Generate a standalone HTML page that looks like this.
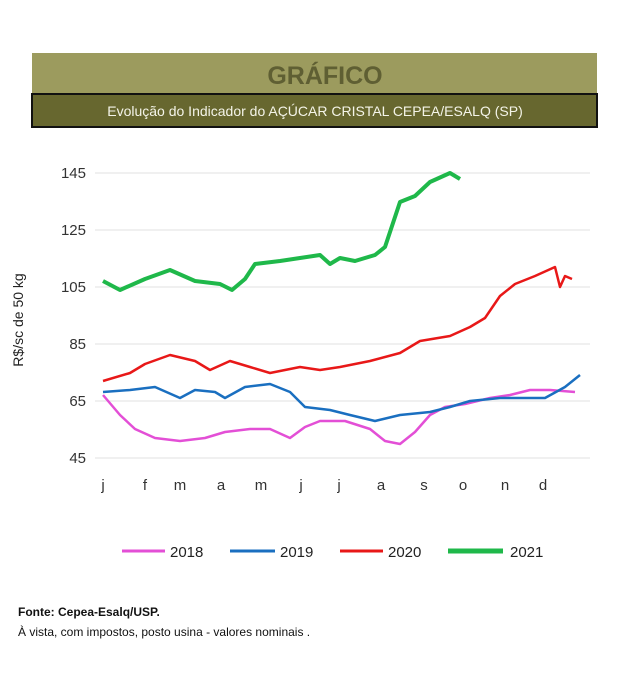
<!DOCTYPE html><html><head><style>body{margin:0;background:#fff;font-family:"Liberation Sans",sans-serif}</style></head><body>
<svg width="619" height="686" xmlns="http://www.w3.org/2000/svg" font-family="Liberation Sans, sans-serif">
<rect x="32" y="53" width="565" height="41" fill="#9c9b5e"/>
<text x="325" y="84" text-anchor="middle" font-size="25" font-weight="bold" fill="#5f5f33">GRÁFICO</text>
<rect x="32" y="94" width="565" height="33" fill="#67672f" stroke="#111" stroke-width="2"/>
<text x="315" y="116" text-anchor="middle" font-size="14" fill="#f4f4e8">Evolução do Indicador do AÇÚCAR CRISTAL CEPEA/ESALQ (SP)</text>
<g stroke="#e2e2e2" stroke-width="1">
<line x1="95" y1="173" x2="590" y2="173"/><line x1="95" y1="230" x2="590" y2="230"/><line x1="95" y1="287" x2="590" y2="287"/><line x1="95" y1="344" x2="590" y2="344"/><line x1="95" y1="401" x2="590" y2="401"/><line x1="95" y1="458" x2="590" y2="458"/></g>
<g font-size="15" fill="#333" text-anchor="end">
<text x="86" y="178">145</text><text x="86" y="235">125</text><text x="86" y="292">105</text><text x="86" y="349">85</text><text x="86" y="406">65</text><text x="86" y="463">45</text></g>
<text transform="translate(23,320) rotate(-90)" text-anchor="middle" font-size="14" fill="#222">R$/sc de 50 kg</text>
<g font-size="15" fill="#333" text-anchor="middle">
<text x="103" y="490">j</text><text x="145" y="490">f</text><text x="180" y="490">m</text><text x="221" y="490">a</text><text x="261" y="490">m</text><text x="301" y="490">j</text><text x="339" y="490">j</text><text x="381" y="490">a</text><text x="424" y="490">s</text><text x="463" y="490">o</text><text x="505" y="490">n</text><text x="543" y="490">d</text></g>
<g fill="none" stroke-linejoin="round">
<polyline stroke="#e34fd6" stroke-width="2.5" points="103,395 120,415 135,429 155,438 180,441 205,438 225,432 250,429 270,429 290,438 305,427 320,421 345,421 370,429 385,441 400,444 415,432 430,415 445,407 465,404 490,398 510,395 530,390 550,390 575,392"/>
<polyline stroke="#1a6fc0" stroke-width="2.5" points="103,392 130,390 155,387 180,398 195,390 215,392 225,398 245,387 270,384 290,392 305,407 330,410 350,415 375,421 400,415 430,412 450,407 470,401 500,398 530,398 545,398 565,387 580,375"/>
<polyline stroke="#e81818" stroke-width="2.5" points="103,381 130,373 145,364 170,355 195,361 210,370 230,361 250,367 270,373 300,367 320,370 340,367 370,361 400,353 420,341 450,336 470,327 485,318 500,296 515,284 535,276 555,267 560,287 565,276 572,279"/>
<polyline stroke="#1fb84a" stroke-width="4" points="103,281 120,290 145,279 170,270 195,281 220,284 232,290 245,279 255,264 280,261 300,258 320,255 330,264 340,258 355,261 375,255 385,247 400,202 415,196 430,182 450,173 460,179"/>
</g>
<g font-size="15" fill="#222">
<line x1="122" y1="551" x2="165" y2="551" stroke="#e34fd6" stroke-width="3"/><text x="170" y="557">2018</text>
<line x1="230" y1="551" x2="275" y2="551" stroke="#1a6fc0" stroke-width="3"/><text x="280" y="557">2019</text>
<line x1="340" y1="551" x2="383" y2="551" stroke="#e81818" stroke-width="3"/><text x="388" y="557">2020</text>
<line x1="448" y1="551" x2="503" y2="551" stroke="#1fb84a" stroke-width="5"/><text x="510" y="557">2021</text></g>
<text x="18" y="616" font-size="12" font-weight="bold" fill="#111">Fonte: Cepea-Esalq/USP.</text>
<text x="18" y="636" font-size="12" fill="#111">À vista, com impostos, posto usina - valores nominais .</text>
</svg></body></html>
